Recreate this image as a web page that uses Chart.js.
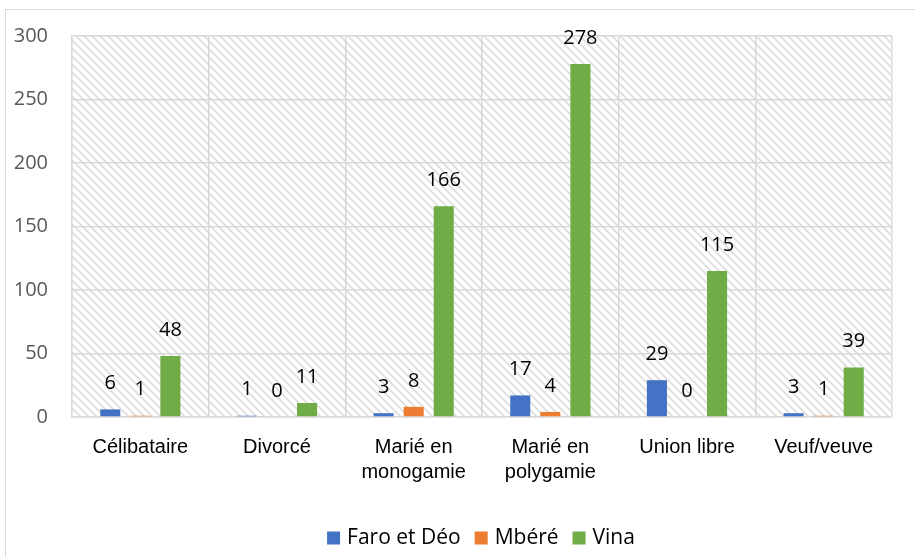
<!DOCTYPE html>
<html>
<head>
<meta charset="utf-8">
<script src="https://cdn.jsdelivr.net/npm/chart.js@4.4.0/dist/chart.umd.min.js"></script>
<style>
html,body{margin:0;padding:0;background:#fff;overflow:hidden;}
#wrap{position:relative;width:915px;height:557px;}
#frame{position:absolute;left:5px;top:9px;width:930px;height:570px;border:1px solid #d9d9d9;box-sizing:border-box;}
canvas{position:absolute;left:0;top:0;}
</style>
</head>
<body>
<div id="wrap">
<div id="frame"></div>
<canvas id="c" width="915" height="557"></canvas>
</div>
<script>
const categories = [["Célibataire"], ["Divorcé"], ["Marié en", "monogamie"], ["Marié en", "polygamie"], ["Union libre"], ["Veuf/veuve"]];
const faroEtDeo = [6, 1, 3, 17, 29, 3];
const mbere = [1, 0, 8, 4, 0, 1];
const vina = [48, 11, 166, 278, 115, 39];
const seriesNames = ["Faro et Déo", "Mbéré", "Vina"];
const yTicks = [0, 50, 100, 150, 200, 250, 300];

const colors = ["#4472C4", "#ED7D31", "#70AD47"];

function makePattern(ctx) {
  const p = document.createElement('canvas');
  p.width = 8; p.height = 8;
  const g = p.getContext('2d');
  g.fillStyle = '#fff';
  g.fillRect(0, 0, 8, 8);
  g.strokeStyle = '#dcdcdc';
  g.lineWidth = 1.6;
  g.beginPath();
  g.moveTo(-2, -2); g.lineTo(10, 10);
  g.moveTo(-10, -2); g.lineTo(2, 10);
  g.moveTo(6, -2); g.lineTo(18, 10);
  g.stroke();
  return ctx.createPattern(p, 'repeat');
}

const hatchPlugin = {
  id: 'hatch',
  beforeDraw(chart) {
    const {ctx, chartArea: a} = chart;
    ctx.save();
    ctx.fillStyle = makePattern(ctx);
    ctx.fillRect(a.left, a.top, a.right - a.left, a.bottom - a.top);
    ctx.restore();
  }
};

const labelPlugin = {
  id: 'vals',
  afterDatasetsDraw(chart) {
    const ctx = chart.ctx;
    ctx.save();
    ctx.font = '20px "Open Sans", sans-serif';
    ctx.fillStyle = '#000';
    ctx.textAlign = 'center';
    ctx.textBaseline = 'middle';
    chart.data.datasets.forEach((ds, i) => {
      chart.getDatasetMeta(i).data.forEach((bar, j) => {
        ctx.fillText(String(ds.data[j]), bar.x, bar.y - 26);
      });
    });
    ctx.restore();
  }
};

const legendPlugin = {
  id: 'customLegend',
  afterDraw(chart) {
    const ctx = chart.ctx;
    ctx.save();
    ctx.font = '21px "Open Sans", sans-serif';
    ctx.textBaseline = 'middle';
    ctx.textAlign = 'left';
    const box = 13, gapText = 7, gapItem = 14;
    const widths = chart.data.datasets.map(d => ctx.measureText(d.label).width);
    const total = widths.reduce((s, w) => s + box + gapText + w, 0) + gapItem * (widths.length - 1);
    let x = 481 - total / 2;
    const yc = 538;
    chart.data.datasets.forEach((d, i) => {
      ctx.fillStyle = d.backgroundColor;
      ctx.fillRect(x, yc - box / 2, box, box);
      x += box + gapText;
      ctx.fillStyle = '#000';
      ctx.fillText(d.label, x, yc);
      x += widths[i] + gapItem;
    });
    ctx.restore();
  }
};

new Chart(document.getElementById('c'), {
  type: 'bar',
  data: {
    labels: categories,
    datasets: seriesNames.map((n, i) => ({
      label: n,
      data: [faroEtDeo, mbere, vina][i],
      backgroundColor: colors[i],
      categoryPercentage: 0.66,
      barPercentage: 0.667
    }))
  },
  options: {
    responsive: false,
    animation: false,
    layout: {padding: {left: 0, right: 23, top: 36, bottom: 45}},
    plugins: {
      legend: {display: false},
      tooltip: {enabled: false}
    },
    scales: {
      x: {
        grid: {color: '#d9d9d9', lineWidth: 1.5, drawTicks: false},
        border: {color: '#d9d9d9', width: 1.5},
        ticks: {
          color: '#000', padding: 18,
          font: {family: '"Liberation Sans", Arial, sans-serif', size: 20, lineHeight: 1.25}
        },
        afterFit(s) { s.height = 95; }
      },
      y: {
        min: 0, max: 300,
        afterBuildTicks(s) { s.ticks = yTicks.map(v => ({value: v})); },
        grid: {color: '#d9d9d9', lineWidth: 1.5, drawTicks: false},
        border: {color: '#d9d9d9', width: 1.5},
        ticks: {
          color: '#595959', padding: 24,
          font: {family: '"Open Sans", sans-serif', size: 20}
        },
        afterFit(s) { s.width = 72; }
      }
    }
  },
  plugins: [hatchPlugin, labelPlugin, legendPlugin]
});
</script>
</body>
</html>
